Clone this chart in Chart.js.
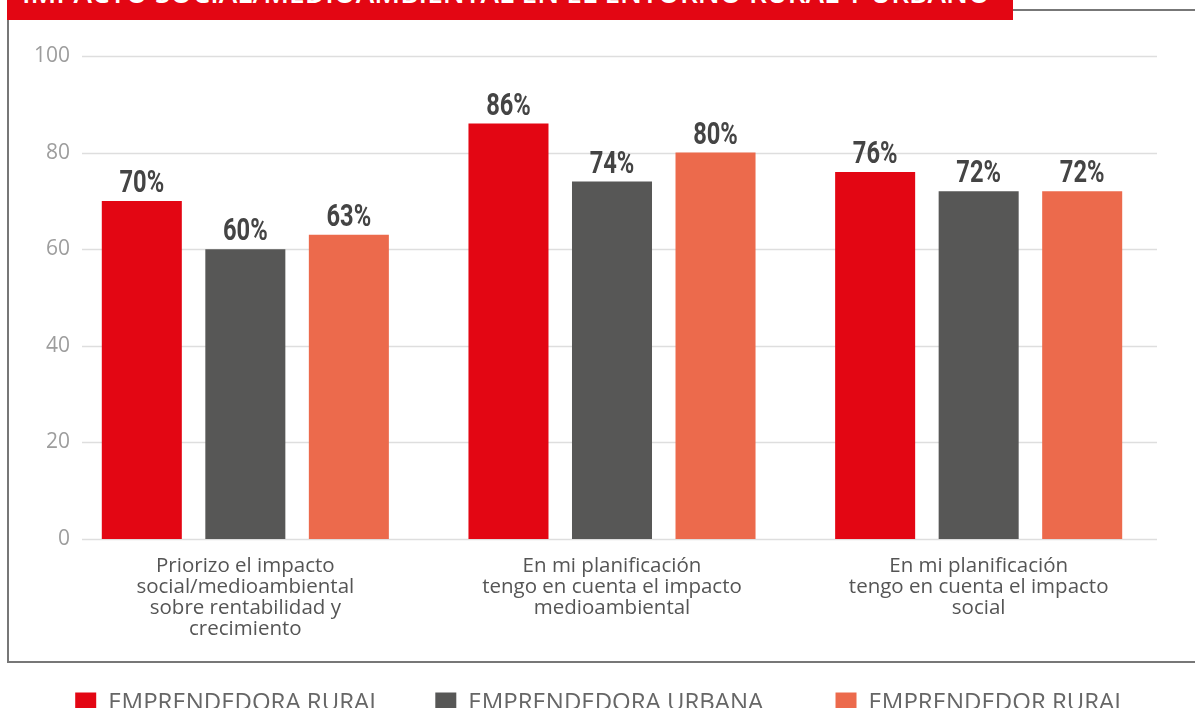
<!DOCTYPE html>
<html>
<head>
<meta charset="utf-8">
<script src="https://cdn.jsdelivr.net/npm/chart.js@4"></script>
<style>
  html, body { margin: 0; padding: 0; width: 1195px; height: 708px; overflow: hidden; background: #fff; }
  #frame { position: absolute; left: 7px; top: 9px; width: 1200px; height: 650px; border-left: 2px solid #777; border-top: 2px solid #777; border-bottom: 2px solid #777; }
  #banner { position: absolute; left: 7px; top: -20px; width: 1006px; height: 40px; background: #e30613; color: #fff; font: 600 28px "Open Sans", sans-serif; line-height: 1; white-space: nowrap; overflow: hidden; }
  #banner span { position: absolute; left: 15px; bottom: 14px; }
  #wrap { position: absolute; left: 0; top: 0; width: 1195px; height: 730px; }
</style>
</head>
<body>
<div id="frame"></div>
<div id="banner"><span>IMPACTO SOCIAL/MEDIOAMBIENTAL EN EL ENTORNO RURAL Y URBANO</span></div>
<div id="wrap"><canvas id="chart"></canvas></div>
<script>
const categories = [
  ["Priorizo el impacto", "social/medioambiental", "sobre rentabilidad y", "crecimiento"],
  ["En mi planificación", "tengo en cuenta el impacto", "medioambiental"],
  ["En mi planificación", "tengo en cuenta el impacto", "social"]
];
const seriesNames = ["EMPRENDEDORA RURAL", "EMPRENDEDORA URBANA", "EMPRENDEDOR RURAL"];
const ruralWomen = [70, 86, 76];
const urbanWomen = [60, 74, 72];
const ruralMen = [63, 80, 72];
const colors = ["#e30613", "#575756", "#ec6a4c"];

// condensed bold value labels above each bar
const valueLabels = {
  id: "valueLabels",
  afterDatasetsDraw(chart) {
    const ctx = chart.ctx;
    ctx.save();
    ctx.font = "bold 32px Roboto, sans-serif";
    ctx.fillStyle = "#444";
    ctx.textAlign = "center";
    ctx.textBaseline = "alphabetic";
    chart.data.datasets.forEach((ds, i) => {
      chart.getDatasetMeta(i).data.forEach((bar, j) => {
        ctx.save();
        ctx.translate(bar.x, bar.y - 9);
        ctx.scale(0.74, 1);
        ctx.fillText(ds.data[j] + "%", 0, 0);
        ctx.restore();
      });
    });
    ctx.restore();
  }
};

// grid lines start a little right of the y labels
const gridLines = {
  id: "gridLines",
  beforeDatasetsDraw(chart) {
    const ctx = chart.ctx;
    const y = chart.scales.y;
    const area = chart.chartArea;
    ctx.save();
    ctx.strokeStyle = "#dedede";
    ctx.lineWidth = 1.5;
    y.ticks.forEach((t) => {
      const py = Math.round(y.getPixelForValue(t.value)) + 0.5;
      ctx.beginPath();
      ctx.moveTo(area.left + 20, py);
      ctx.lineTo(area.right - 5, py);
      ctx.stroke();
    });
    ctx.restore();
  }
};

const legendGaps = [7, 10, 0];

new Chart(document.getElementById("chart"), {
  type: "bar",
  data: {
    labels: categories,
    datasets: [
      { label: seriesNames[0], data: ruralWomen, backgroundColor: colors[0] },
      { label: seriesNames[1], data: urbanWomen, backgroundColor: colors[1] },
      { label: seriesNames[2], data: ruralMen, backgroundColor: colors[2] }
    ]
  },
  options: {
    responsive: true,
    maintainAspectRatio: false,
    animation: false,
    layout: { padding: { top: 56, right: 33, left: 40, bottom: 5 } },
    datasets: { bar: { categoryPercentage: 0.847, barPercentage: 0.773 } },
    scales: {
      x: {
        grid: { display: false, drawTicks: false },
        border: { display: false },
        ticks: { color: "#555", padding: 17, maxRotation: 0, autoSkip: false, font: { family: "'Open Sans', sans-serif", size: 20.5, lineHeight: "21px" } },
        afterFit: (s) => { s.height = 142; }
      },
      y: {
        min: 0,
        max: 100,
        grid: { display: false, drawTicks: false },
        border: { display: false },
        ticks: { stepSize: 20, color: "#9d9d9d", mirror: true, crossAlign: "far", padding: -28, font: { family: "'Open Sans', sans-serif", size: 21 } },
        afterFit: (s) => { s.width = 22; }
      }
    },
    plugins: {
      legend: {
        position: "bottom",
        labels: {
          boxWidth: 21, boxHeight: 21, padding: 10, color: "#666",
          font: { family: "'Open Sans', sans-serif", size: 24 },
          generateLabels: (chart) => Chart.defaults.plugins.legend.labels.generateLabels(chart).map((item, i) => {
            item.text = item.text + " ".repeat(legendGaps[i]);
            return item;
          })
        }
      },
      tooltip: { enabled: false }
    }
  },
  plugins: [gridLines, valueLabels]
});
</script>
</body>
</html>
